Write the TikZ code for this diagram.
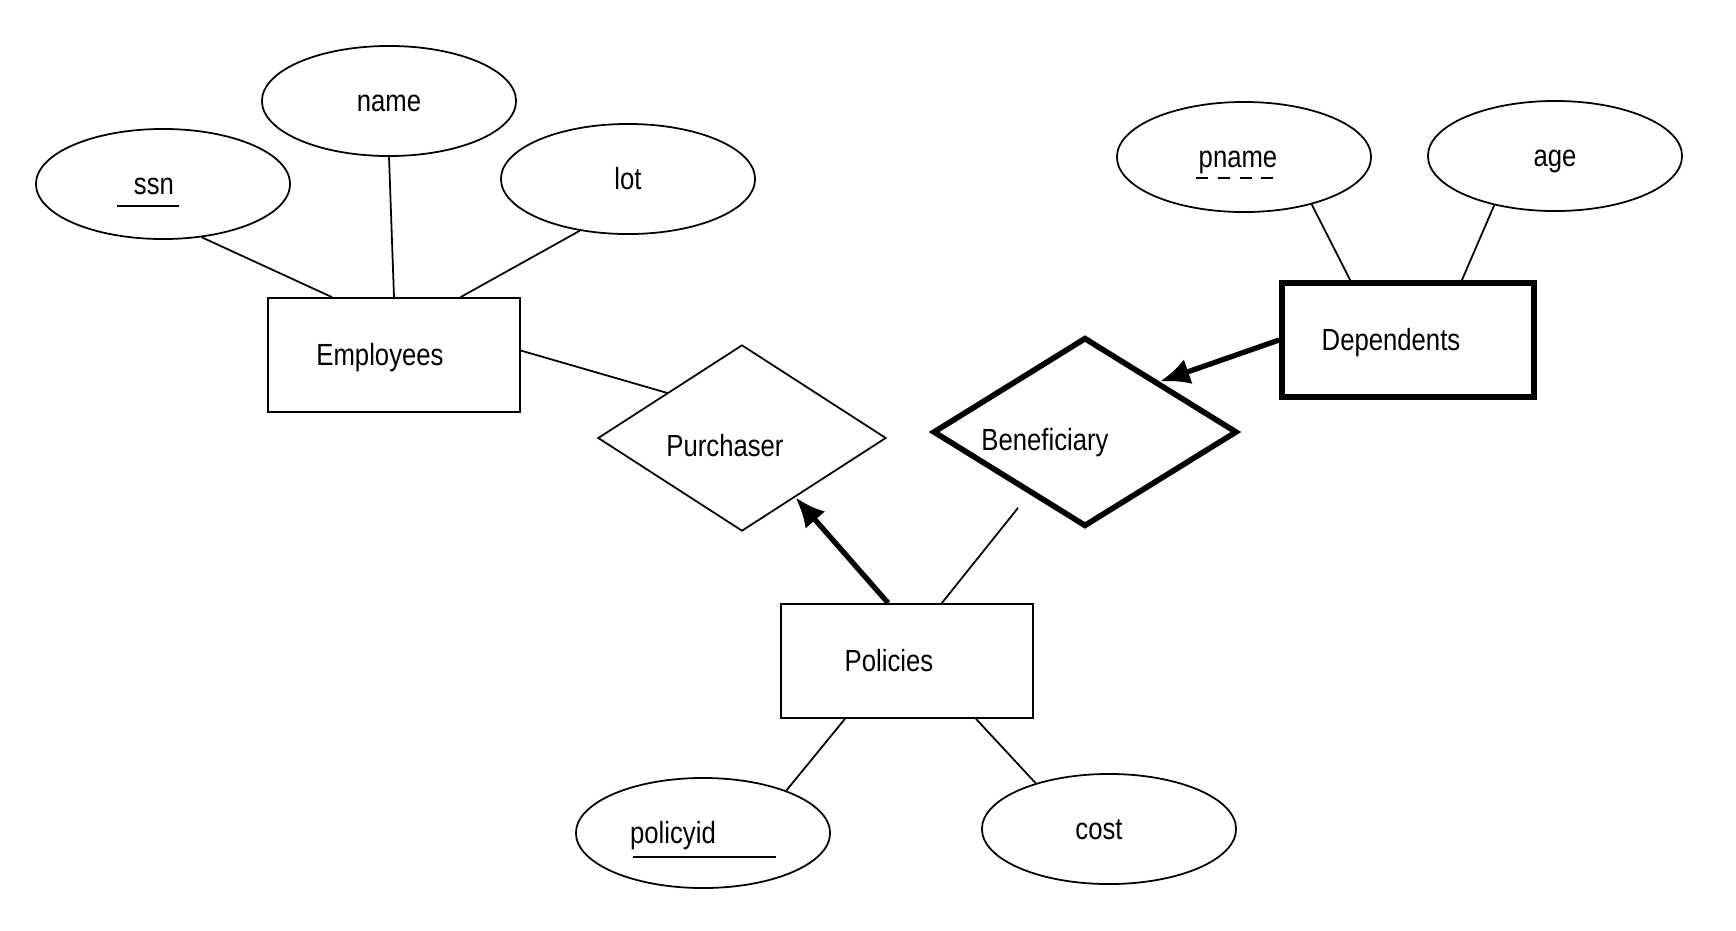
\documentclass[tikz,border=0pt]{standalone}
\usepackage{fontspec}
\setmainfont{Liberation Sans}[FakeStretch=0.84]
\usepackage{tikz}
\usetikzlibrary{shapes.geometric}
\usetikzlibrary{arrows.meta}
\tikzstyle{attr} = [ellipse, draw, line width=0.5pt, minimum width=2.54cm, minimum height=1.1cm, inner sep=0pt]
\tikzstyle{entity} = [rectangle, draw, line width=0.5pt, minimum width=2.52cm, minimum height=1.14cm, inner sep=0pt]
\tikzstyle{weak} = [entity, line width=1.6pt]
\tikzstyle{rel} = [diamond, draw, line width=0.5pt, aspect=1.6, minimum width=2.88cm, minimum height=1.86cm, inner sep=0pt, text height=12.6pt]
\tikzstyle{idrel} = [rel, line width=1.6pt, minimum width=3.04cm, minimum height=1.89cm]
\tikzstyle{link} = [line width=0.5pt]
\tikzstyle{keyline} = [line width=0.6pt]
\tikzstyle{keyarrow} = [line width=1.5pt, -{Latex[length=3mm,width=2.6mm]}]

\begin{document}
\begin{tikzpicture}[x=0.01cm, y=-0.01cm, font=\fontsize{8.7}{10}\selectfont,
	every node/.append style={text height=8.2pt, text depth=2pt}]
	\useasboundingbox (0,0) rectangle (1736,930);

	% entities
	\node[entity] (emp) at (394,355) {Employees\hspace*{2.8mm}};
	\node[entity] (pol) at (907,661) {Policies\hspace*{3.6mm}};
	\node[weak] (dep) at (1408,340) {Dependents\hspace*{3.4mm}};

	% relationships
	\node[rel] (purch) at (742,438) {Purchaser\hspace*{3.4mm}};
	\node[idrel] (benef) at (1085,432) {Beneficiary\hspace*{8mm}};

	% attributes
	\node[attr] (ssn) at (163,184) {ssn\hspace*{1.8mm}};
	\node[attr] (name) at (389,101) {name};
	\node[attr] (lot) at (628,179) {lot};
	\node[attr] (pname) at (1244,157) {pname\hspace*{1.2mm}};
	\node[attr] (age) at (1555,156) {age};
	\node[attr] (pid) at (703,833) {policyid\hspace*{6mm}};
	\node[attr] (cost) at (1109,829) {cost\hspace*{2mm}};

	% keys
	\draw[keyline] ([xshift=-0.46cm,yshift=-0.11cm]ssn.base) -- ([xshift=0.16cm,yshift=-0.11cm]ssn.base);
	\draw[keyline] ([xshift=-0.70cm,yshift=-0.13cm]pid.base) -- ([xshift=0.73cm,yshift=-0.13cm]pid.base);
	\draw[keyline, dash pattern=on 3.4pt off 2.8pt] ([xshift=-0.48cm,yshift=-0.10cm]pname.base) -- ([xshift=0.35cm,yshift=-0.10cm]pname.base);

	% links
	\draw[link] (ssn.-54) -- (emp.137);
	\draw[link] (name.south) -- (emp.north);
	\draw[link] (lot.-133) -- (emp.41);
	\draw[link] (emp.2) -- (purch.149);
	\draw[link, shorten >=5pt] (pol.59) -- (benef.-132);
	\draw[link] (pname.-35) -- (dep.134);
	\draw[link] (age.-141) -- (dep.48);
	\draw[link] (pid.27) -- (pol.-137);
	\draw[link] (cost.148) -- (pol.-40);

	% key constraints
	\draw[keyarrow] (pol.108) -- (purch.-48);
	\draw[keyarrow] (dep.west) -- (benef.34);

\end{tikzpicture}
\end{document}
